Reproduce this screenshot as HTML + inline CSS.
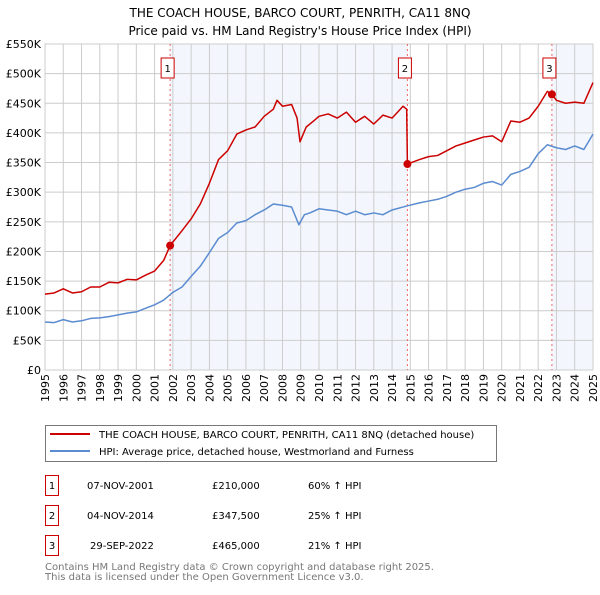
<!DOCTYPE html>
<html><head><meta charset="utf-8"><style>
body{margin:0;background:#fff;}
svg text{font-family:"DejaVu Sans","Liberation Sans",sans-serif;}
</style></head><body>
<svg id="chart" width="600" height="590" xmlns="http://www.w3.org/2000/svg">
<text x="300" y="17" text-anchor="middle" font-size="12">THE COACH HOUSE, BARCO COURT, PENRITH, CA11 8NQ</text>
<text x="300" y="35" text-anchor="middle" font-size="12">Price paid vs. HM Land Registry's House Price Index (HPI)</text>
<g id="plot"></g>
<g>
<rect x="45.5" y="425.5" width="451" height="36" fill="#fff" stroke="#777"/>
<line x1="50" y1="434" x2="90" y2="434" stroke="#cc0000" stroke-width="2"/>
<text x="99" y="438" font-size="10">THE COACH HOUSE, BARCO COURT, PENRITH, CA11 8NQ (detached house)</text>
<line x1="50" y1="451" x2="90" y2="451" stroke="#5b8bd0" stroke-width="2"/>
<text x="99" y="455" font-size="10">HPI: Average price, detached house, Westmorland and Furness</text>
</g>
<g font-size="10">
<rect x="45.5" y="475.5" width="13" height="20" fill="#fff" stroke="#cc0000"/><text x="52" y="489" text-anchor="middle">1</text>
<text x="87" y="489">07-NOV-2001</text><text x="212" y="489">£210,000</text><text x="308" y="489">60% ↑ HPI</text>
<rect x="45.5" y="505.5" width="13" height="20" fill="#fff" stroke="#cc0000"/><text x="52" y="519" text-anchor="middle">2</text>
<text x="87" y="519">04-NOV-2014</text><text x="212" y="519">£347,500</text><text x="308" y="519">25% ↑ HPI</text>
<rect x="45.5" y="535.5" width="13" height="20" fill="#fff" stroke="#cc0000"/><text x="52" y="549" text-anchor="middle">3</text>
<text x="90" y="549">29-SEP-2022</text><text x="212" y="549">£465,000</text><text x="308" y="549">21% ↑ HPI</text>
</g>
<text x="45" y="570" font-size="10" fill="#777">Contains HM Land Registry data © Crown copyright and database right 2025.</text>
<text x="45" y="580" font-size="10" fill="#777">This data is licensed under the Open Government Licence v3.0.</text>
</svg>
<script>
const hpiYears=[1995,1995.5,1996,1996.5,1997,1997.5,1998,1998.5,1999,1999.5,2000,2000.5,2001,2001.5,2002,2002.5,2003,2003.5,2004,2004.5,2005,2005.5,2006,2006.5,2007,2007.5,2008,2008.5,2008.9,2009.2,2009.5,2010,2010.5,2011,2011.5,2012,2012.5,2013,2013.5,2014,2014.84,2015.5,2016,2016.5,2017,2017.5,2018,2018.5,2019,2019.5,2020,2020.5,2021,2021.5,2022,2022.5,2023,2023.5,2024,2024.5,2025];
const hpiValues=[81,80,85,81,83,87,88,90,93,96,98,104,110,118,131,140,158,175,198,222,232,248,252,262,270,280,278,275,245,262,265,272,270,268,262,268,262,265,262,270,277,282,285,288,293,300,305,308,315,318,312,330,335,342,365,380,375,372,378,372,398];
const priceYears=[1995,1995.5,1996,1996.5,1997,1997.5,1998,1998.5,1999,1999.5,2000,2000.5,2001,2001.5,2001.85,2002.5,2003,2003.5,2004,2004.5,2005,2005.5,2006,2006.5,2007,2007.5,2007.7,2008,2008.5,2008.8,2008.96,2009.3,2009.7,2010,2010.5,2011,2011.5,2012,2012.5,2013,2013.5,2014,2014.6,2014.8,2014.84,2015.5,2016,2016.5,2017,2017.5,2018,2018.5,2019,2019.5,2020,2020.5,2021,2021.5,2022,2022.5,2022.75,2023,2023.5,2024,2024.5,2025];
const priceValues=[128,130,137,130,132,140,140,148,147,153,152,160,167,185,210,235,255,280,315,355,370,398,405,410,428,440,455,445,448,425,385,410,420,428,432,425,435,418,428,415,430,425,445,440,347.5,355,360,362,370,378,383,388,393,395,385,420,418,425,445,470,465,455,450,452,450,485];
const saleYears=[2001.85,2014.84,2022.75];
const saleValues=[210,347.5,465];
const saleLabels=["1","2","3"];
const yTicks=[0,50,100,150,200,250,300,350,400,450,500,550];
const yTickLabels=["£0","£50K","£100K","£150K","£200K","£250K","£300K","£350K","£400K","£450K","£500K","£550K"];
const xTicks=[1995,1996,1997,1998,1999,2000,2001,2002,2003,2004,2005,2006,2007,2008,2009,2010,2011,2012,2013,2014,2015,2016,2017,2018,2019,2020,2021,2022,2023,2024,2025];

const L=45,R=593,T=44,B=370;
const xs=y=>L+(y-1995)/30*(R-L);
const ys=v=>B-v/550*(B-T);
const NS="http://www.w3.org/2000/svg";
const g=document.getElementById('plot');
function mk(t,a){const e=document.createElementNS(NS,t);for(const k in a)e.setAttribute(k,a[k]);g.appendChild(e);return e;}
[[saleYears[0],saleYears[1]],[saleYears[2],2025]].forEach(s=>{
 const r=mk('rect',{x:xs(s[0]),y:T,width:xs(s[1])-xs(s[0]),height:B-T,fill:'#eef3fc',opacity:0.7});
 
 
});
yTicks.forEach((v,i)=>{
 const l=mk('line',{x1:L,x2:R,y1:ys(v),y2:ys(v),stroke:'#ccc','stroke-width':1});
 
 
 const t=mk('text',{x:L-4,y:ys(v)+4,'text-anchor':'end','font-size':11});
 t.textContent=yTickLabels[i];
 
 
});
xTicks.forEach(y=>{
 const l=mk('line',{x1:xs(y),x2:xs(y),y1:T,y2:B,stroke:'#ccc','stroke-width':1});
 
 
 const t=mk('text',{x:0,y:0,'text-anchor':'end','font-size':11,transform:`translate(${xs(y)+4} ${B+4}) rotate(-90)`});
 t.textContent=y;
 
 
});
const border=mk('rect',{x:L,y:T,width:R-L,height:B-T,fill:'none',stroke:'#ccc'});


saleYears.forEach((y,i)=>{
 const l=mk('line',{x1:xs(y),x2:xs(y),y1:T,y2:B,stroke:'#e66','stroke-width':1,'stroke-dasharray':'2,3'});
 
 
 const bx=mk('rect',{x:xs(y)-9,y:58,width:13,height:20,fill:'#fff',stroke:'#cc0000'});
 
 
 const t=mk('text',{x:xs(y)-2.5,y:72,'text-anchor':'middle','font-size':10});
 t.textContent=saleLabels[i];
 
 
});
function line(xa,va,color,name){
 const p=mk('polyline',{points:xa.map((x,i)=>xs(x)+','+ys(va[i])).join(' '),fill:'none',stroke:color,'stroke-width':1.5,'stroke-linejoin':'round'});
 
 
}
line(hpiYears,hpiValues,'#5b8bd0','hpi-line');
line(priceYears,priceValues,'#cc0000','price-line');
saleYears.forEach((y,i)=>{
 const c=mk('circle',{cx:xs(y),cy:ys(saleValues[i]),r:4,fill:'#cc0000'});
 
 
});
</script>
</body></html>
